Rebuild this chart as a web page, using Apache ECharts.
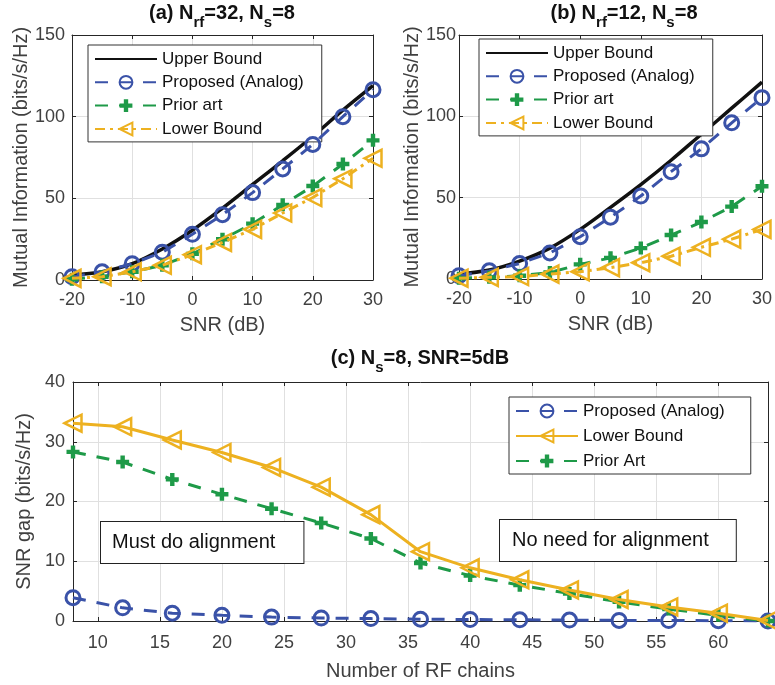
<!DOCTYPE html>
<html>
<head>
<meta charset="utf-8">
<script src="https://cdn.jsdelivr.net/npm/echarts@6/dist/echarts.min.js"></script>
<style>
html,body{margin:0;padding:0;background:#fff;}
#main{width:775px;height:685px;}
</style>
</head>
<body>
<div id="main"></div>
<script>
// ---- Data ----
var snr = [-20, -15, -10, -5, 0, 5, 10, 15, 20, 25, 30];
var snrTicks = [-20, -10, 0, 10, 20, 30];
var miTicks = [0, 50, 100, 150];

var upperA = [3, 5, 10, 19, 30.5, 44, 58.5, 73, 88, 104, 119];
var propA  = [2, 5, 10, 17, 28, 40, 53.5, 68, 83, 100, 116.5];
var priorA = [0.5, 2, 5, 9, 16, 25, 34.5, 46, 57.5, 71, 85.5];
var lowerA = [1, 2, 5, 9, 15.5, 23, 31, 41, 50.5, 62, 74.5];

var upperB = [3, 5.5, 11, 19, 30.5, 44, 58, 73, 89, 105, 121];
var propB  = [2, 5, 9.5, 16, 26, 38, 51, 66, 80, 96, 111.5];
var priorB = [0.5, 1, 2, 4, 9, 13, 19, 27, 35, 44.5, 57];
var lowerB = [0.5, 1, 1.5, 3, 4.5, 7, 10, 14, 19.5, 24.5, 30.5];

var rfChains = [8, 12, 16, 20, 24, 28, 32, 36, 40, 44, 48, 52, 56, 60, 64];
var rfTicks = [10, 15, 20, 25, 30, 35, 40, 45, 50, 55, 60];
var gapTicks = [0, 10, 20, 30, 40];
var propC  = [3.9, 2.2, 1.3, 0.95, 0.65, 0.5, 0.4, 0.3, 0.25, 0.2, 0.15, 0.1, 0.08, 0.05, 0];
var lowerC = [33.1, 32.5, 30.3, 28.2, 25.7, 22.4, 17.8, 11.6, 8.9, 6.9, 5.2, 3.6, 2.35, 1.3, 0.1];
var priorC = [28.3, 26.6, 23.7, 21.2, 18.8, 16.4, 13.8, 9.7, 7.6, 6.0, 4.6, 3.2, 2.0, 0.95, 0];

// ---- Style ----
var FONT = 'Liberation Sans, Arial, Helvetica, sans-serif';
var AX = '#262626';
var TXT = '#404040';
var BLUE = '#3a52a8';
var GREEN = '#1e9a48';
var ORANGE = '#edb120';
var BLACK = '#111111';
var PLUS = 'path://M3.3,0H6.7V3.3H10V6.7H6.7V10H3.3V6.7H0V3.3H3.3Z';
var TRI = 'path://M0,5L10,0L10,10Z';
var DASH = [13, 11];
var DASHDOT = [10, 5, 3, 5];

function pairs(xs, ys) { return xs.map(function (x, i) { return [x, ys[i]]; }); }

var grids = [
  { left: 72, width: 301, top: 35, height: 245 },
  { left: 459, width: 309, top: 35, height: 244 },
  { left: 73, width: 695, top: 382, height: 239 }
];

function mainX(gi, min, max, ticks, name, gap, margin) {
  return {
    type: 'value', gridIndex: gi, min: min, max: max, position: 'bottom',
    name: name, nameLocation: 'middle', nameGap: gap,
    nameTextStyle: { fontFamily: FONT, fontSize: 20, color: TXT },
    axisLine: { show: true, onZero: false, lineStyle: { color: AX, width: 1 } },
    axisTick: { show: true, inside: true, length: 4, customValues: ticks, lineStyle: { color: AX } },
    axisLabel: { customValues: ticks, fontFamily: FONT, fontSize: 18, color: TXT, margin: margin },
    splitLine: { show: true, lineStyle: { color: '#e0e0e0', width: 1 } }
  };
}
function mainY(gi, min, max, ticks, name, gap, margin) {
  return {
    type: 'value', gridIndex: gi, min: min, max: max, position: 'left',
    name: name, nameLocation: 'middle', nameGap: gap,
    nameTextStyle: { fontFamily: FONT, fontSize: 20, color: TXT },
    axisLine: { show: true, onZero: false, lineStyle: { color: AX, width: 1 } },
    axisTick: { show: true, inside: true, length: 4, customValues: ticks, lineStyle: { color: AX } },
    axisLabel: { customValues: ticks, fontFamily: FONT, fontSize: 18, color: TXT, margin: margin },
    splitLine: { show: true, lineStyle: { color: '#e0e0e0', width: 1 } }
  };
}
function boxX(gi, min, max, ticks) {
  return {
    type: 'value', gridIndex: gi, min: min, max: max, position: 'top',
    axisLine: { show: true, onZero: false, lineStyle: { color: AX, width: 1 } },
    axisTick: { show: true, inside: true, length: 4, customValues: ticks, lineStyle: { color: AX } },
    axisLabel: { show: false, customValues: ticks }, splitLine: { show: false }
  };
}
function boxY(gi, min, max, ticks) {
  return {
    type: 'value', gridIndex: gi, min: min, max: max, position: 'right',
    axisLine: { show: true, onZero: false, lineStyle: { color: AX, width: 1 } },
    axisTick: { show: true, inside: true, length: 4, customValues: ticks, lineStyle: { color: AX } },
    axisLabel: { show: false, customValues: ticks }, splitLine: { show: false }
  };
}

var xAxes = [
  mainX(0, -20, 30, snrTicks, 'SNR (dB)', 35, 11),
  mainX(1, -20, 30, snrTicks, 'SNR (dB)', 35, 11),
  mainX(2, 8, 64, rfTicks, 'Number of RF chains', 40, 13),
  boxX(0, -20, 30, snrTicks), boxX(1, -20, 30, snrTicks), boxX(2, 8, 64, rfTicks)
];
var yAxes = [
  mainY(0, 0, 150, miTicks, 'Mutual Information (bits/s/Hz)', 40, 7),
  mainY(1, 0, 150, miTicks, 'Mutual Information (bits/s/Hz)', 30, 3),
  mainY(2, 0, 40, gapTicks, 'SNR gap (bits/s/Hz)', 35, 8),
  boxY(0, 0, 150, miTicks), boxY(1, 0, 150, miTicks), boxY(2, 0, 40, gapTicks)
];

function upperSeries(gi, ys) {
  return { name: 'Upper Bound', type: 'line', xAxisIndex: gi, yAxisIndex: gi,
    data: pairs(snr, ys), smooth: 0.35, showSymbol: false, symbol: 'none',
    color: BLACK, lineStyle: { color: BLACK, width: 3.5 }, z: 3 };
}
function propSeries(gi, xs, ys) {
  return { name: 'Proposed (Analog)', type: 'line', xAxisIndex: gi, yAxisIndex: gi,
    data: pairs(xs, ys), symbol: 'circle', symbolSize: 14, color: BLUE,
    itemStyle: { color: 'rgba(255,255,255,0)', borderColor: BLUE, borderWidth: 3 },
    lineStyle: { color: BLUE, width: 3, type: DASH }, z: 4 };
}
function priorSeries(gi, xs, ys, name) {
  return { name: name, type: 'line', xAxisIndex: gi, yAxisIndex: gi,
    data: pairs(xs, ys), symbol: PLUS, symbolSize: 13, color: GREEN,
    itemStyle: { color: GREEN, borderWidth: 0 },
    lineStyle: { color: GREEN, width: 3, type: DASH }, z: 4 };
}
function lowerSeries(gi, xs, ys, name, dash) {
  return { name: name, type: 'line', xAxisIndex: gi, yAxisIndex: gi,
    data: pairs(xs, ys), symbol: TRI, symbolSize: [17, 17], color: ORANGE,
    itemStyle: { color: 'rgba(255,255,255,0)', borderColor: ORANGE, borderWidth: 2.5 },
    lineStyle: { color: ORANGE, width: 3, type: dash }, z: 5 };
}

var series = [
  upperSeries(0, upperA), propSeries(0, snr, propA), priorSeries(0, snr, priorA, 'Prior art'),
  lowerSeries(0, snr, lowerA, 'Lower Bound', DASHDOT),
  upperSeries(1, upperB), propSeries(1, snr, propB), priorSeries(1, snr, priorB, 'Prior art'),
  lowerSeries(1, snr, lowerB, 'Lower Bound', DASHDOT),
  propSeries(2, rfChains, propC), lowerSeries(2, rfChains, lowerC, 'Lower Bound ', 'solid'),
  priorSeries(2, rfChains, priorC, 'Prior Art')
];

function legendBox(left, top, names, padR, gap) {
  return {
    orient: 'vertical', left: left, top: top,
    data: names.map(function (n) {
      return n === 'Upper Bound' ? { name: n, itemStyle: { opacity: 0 } } : { name: n };
    }),
    itemWidth: 62, itemHeight: 16, itemGap: gap,
    backgroundColor: '#fff', borderColor: '#333', borderWidth: 1,
    padding: [5, padR, 4, 6], selectedMode: false,
    textStyle: { fontFamily: FONT, fontSize: 17, lineHeight: 18, color: '#111' }
  };
}

var rich = {
  n: { fontFamily: FONT, fontSize: 20, fontWeight: 'bold', color: '#111', lineHeight: 20, verticalAlign: 'top' },
  s: { fontFamily: FONT, fontSize: 15, fontWeight: 'bold', color: '#111', lineHeight: 27, verticalAlign: 'bottom' }
};

var option = {
  animation: false,
  backgroundColor: '#fff',
  title: [
    { text: '{n|(a) N}{s|rf}{n|=32, N}{s|s}{n|=8}', left: 222, top: 3, padding: 0, textAlign: 'center', textStyle: { rich: rich } },
    { text: '{n|(b) N}{s|rf}{n|=12, N}{s|s}{n|=8}', left: 624, top: 3, padding: 0, textAlign: 'center', textStyle: { rich: rich } },
    { text: '{n|(c) N}{s|s}{n|=8, SNR=5dB}', left: 420, top: 348, padding: 0, textAlign: 'center', textStyle: { rich: rich } }
  ],
  grid: grids,
  xAxis: xAxes,
  yAxis: yAxes,
  legend: [
    legendBox(88, 45, ['Upper Bound', 'Proposed (Analog)', 'Prior art', 'Lower Bound'], 18, 5.3),
    legendBox(479, 39, ['Upper Bound', 'Proposed (Analog)', 'Prior art', 'Lower Bound'], 18, 5.3),
    legendBox(509, 397, ['Proposed (Analog)', 'Lower Bound ', 'Prior Art'], 26, 7)
  ],
  graphic: [
    { type: 'text', left: 100, top: 521, z: 10,
      style: { text: 'Must do alignment', fontFamily: FONT, fontSize: 20, lineHeight: 21, fill: '#111',
        backgroundColor: '#fff', borderColor: '#222', borderWidth: 1, padding: [10, 28, 10, 11] } },
    { type: 'text', left: 499, top: 519, z: 10,
      style: { text: 'No need for alignment', fontFamily: FONT, fontSize: 20, lineHeight: 21, fill: '#111',
        backgroundColor: '#fff', borderColor: '#222', borderWidth: 1, padding: [10, 27, 10, 12] } }
  ],
  series: series
};

var chart = echarts.init(document.getElementById('main'), null, { renderer: 'canvas' });
chart.setOption(option);
</script>
</body>
</html>
